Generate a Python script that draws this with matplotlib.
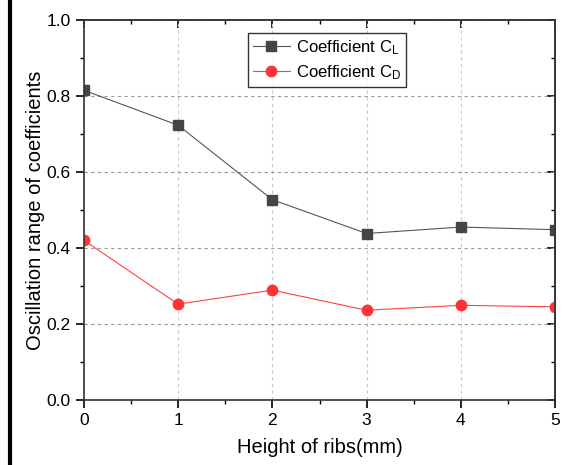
import matplotlib
matplotlib.use("Agg")
import matplotlib.pyplot as plt
from matplotlib.lines import Line2D
from matplotlib.ticker import MultipleLocator

plt.rcParams['font.family'] = ['Liberation Sans', 'DejaVu Sans']
plt.rcParams['mathtext.fontset'] = 'custom'
plt.rcParams['mathtext.rm'] = 'Liberation Sans'
plt.rcParams['mathtext.it'] = 'Liberation Sans:italic'

heights = [0, 1, 2, 3, 4, 5]
cl_values = [0.815, 0.723, 0.527, 0.438, 0.455, 0.448]
cd_values = [0.420, 0.252, 0.289, 0.236, 0.249, 0.245]
x_ticks = [0, 1, 2, 3, 4, 5]
y_ticks = [0.0, 0.2, 0.4, 0.6, 0.8, 1.0]

fig = plt.figure(figsize=(5.63, 4.65), dpi=100)
ax = fig.add_axes([0.149, 0.140, 0.837, 0.817])

ax.plot(heights, cl_values, color='#555555', lw=0.8, marker='s', ms=7,
        mfc='#454545', mec='#454545', label='Coefficient C$_\\mathrm{L}$')
ax.plot(heights, cd_values, color='#ff4040', lw=0.8, marker='o', ms=7.5,
        mfc='#ff3333', mec='#ff3333', label='Coefficient C$_\\mathrm{D}$')

ax.set_xlim(0, 5)
ax.set_ylim(0, 1.0)
ax.set_xticks(x_ticks)
ax.set_yticks(y_ticks)
ax.set_xticklabels([str(v) for v in x_ticks])
ax.set_yticklabels([f"{v:.1f}" for v in y_ticks])
ax.xaxis.set_minor_locator(MultipleLocator(0.5))
ax.yaxis.set_minor_locator(MultipleLocator(0.1))

ax.tick_params(which='major', direction='out', length=6, width=1.2, labelsize=12.5,
               top=False, right=False)
ax.tick_params(which='minor', direction='out', length=3, width=1.0,
               top=False, right=False)
axt = ax.secondary_xaxis('top')
axt.set_xticks(x_ticks)
axt.set_xticklabels([])
axt.xaxis.set_minor_locator(MultipleLocator(0.5))
axt.tick_params(which='major', direction='in', length=6, width=1.2)
axt.tick_params(which='minor', direction='in', length=3, width=1.0)
axr = ax.secondary_yaxis('right')
axr.set_yticks(y_ticks)
axr.set_yticklabels([])
axr.yaxis.set_minor_locator(MultipleLocator(0.1))
axr.tick_params(which='major', direction='in', length=6, width=1.2)
axr.tick_params(which='minor', direction='in', length=3, width=1.0)

for s in ax.spines.values():
    s.set_color('#333333')
    s.set_linewidth(1.2)
for s in list(axt.spines.values()) + list(axr.spines.values()):
    s.set_color('#333333')
    s.set_linewidth(1.2)

ax.grid(axis='y', which='major', linestyle=(0, (3, 3)), color='#999999', lw=0.8)
ax.grid(axis='x', which='major', linestyle=(0, (3, 3)), color='#c8c8c8', lw=0.8)

ax.set_xlabel('Height of ribs(mm)', fontsize=14.5, labelpad=7)
ax.set_ylabel('Oscillation range of coefficients', fontsize=14.5, labelpad=1)

leg = ax.legend(loc='upper left', bbox_to_anchor=(0.348, 0.966), fontsize=12,
                frameon=True, fancybox=False, edgecolor='black',
                handlelength=2.2, borderpad=0.3, labelspacing=0.4,
                handletextpad=0.4, borderaxespad=0)
leg.get_frame().set_linewidth(1.0)

fig.add_artist(Line2D([0.018, 0.018], [0.0, 0.995], transform=fig.transFigure,
                      color='black', lw=3))

fig.savefig('out.png', dpi=100)
